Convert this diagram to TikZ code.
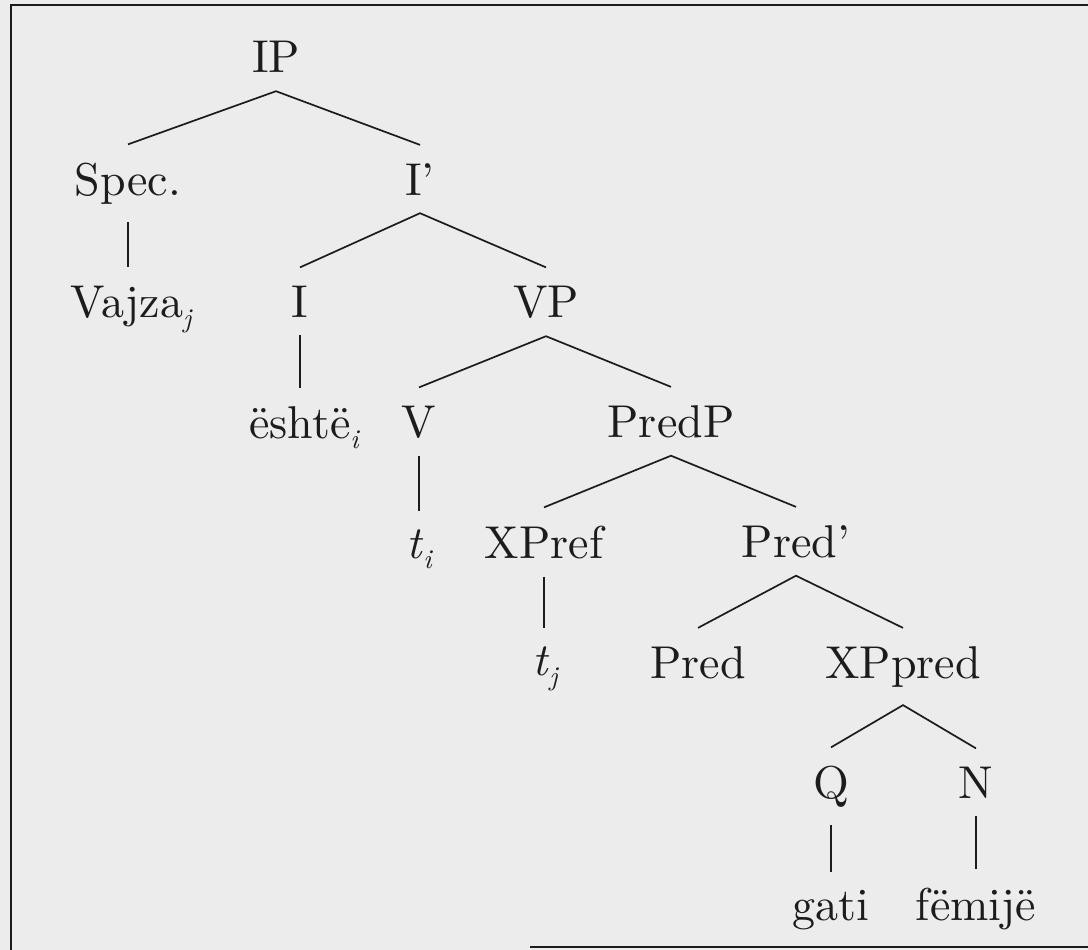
\documentclass[tikz,border=0pt]{standalone}
\usepackage{fontspec}
\setmainfont{lmroman10-regular.otf}[ItalicFont=lmroman10-italic.otf]
\definecolor{bg}{RGB}{236,236,236}
\definecolor{ink}{RGB}{28,28,28}
\newcommand\subidx[1]{\raisebox{-0.22em}{\fontsize{27}{29}\selectfont\itshape #1}}
\tikzset{
  lab/.style={anchor=base, inner xsep=2pt, inner ysep=18pt, text=ink,
              font=\fontsize{46}{50}\selectfont},
  edge/.style={draw=ink, line width=1.7pt},
  frame/.style={draw=ink, line width=2.8pt}
}
\begin{document}
\begin{tikzpicture}[x=1pt,y=-1pt]
\useasboundingbox[fill=bg] (0,0) rectangle (1088,950);
\draw[frame] (1088,5) -- (11,5) -- (11,950);
\draw[frame] (530,947) -- (1088,947);

\node[lab] (ip) at (276,73) {IP};
\node[lab] (spec) at (128,195) {Spec.};
\node[lab] (ibar) at (420,195) {I'};
\node[lab] (vajza) at (131,317) {Vajza\subidx{j}};
\node[lab] (i) at (300,317) {I};
\node[lab] (vp) at (546,317) {VP};
\node[lab] (este) at (304,438) {është\subidx{i}};
\node[lab] (v) at (419,437) {V};
\node[lab] (predp) at (671,437) {PredP};
\node[lab] (ti) at (419,558) {\textit{t}\subidx{i}};
\node[lab] (xpref) at (544,558) {XPref};
\node[lab] (predbar) at (796,557) {Pred'};
\node[lab] (tj) at (545,675) {\textit{t}\subidx{j}};
\node[lab] (pred) at (698,678) {Pred};
\node[lab] (xppred) at (903,678) {XPpred};
\node[lab] (q) at (831,798) {Q};
\node[lab] (n) at (976,798) {N};
\node[lab] (gati) at (831,920) {gati};
\node[lab] (femije) at (976,920) {fëmijë};

\draw[edge] (spec.north) -- (ip.south) -- (ibar.north);
\draw[edge] (i.north) -- (ibar.south) -- (vp.north);
\draw[edge] (v.north) -- (vp.south) -- (predp.north);
\draw[edge] (xpref.north) -- (predp.south) -- (predbar.north);
\draw[edge] (pred.north) -- (predbar.south) -- (xppred.north);
\draw[edge] (q.north) -- (xppred.south) -- (n.north);
\draw[edge] (spec.south) -- (spec.south |- vajza.north);
\draw[edge] (i.south) -- (i.south |- este.north);
\draw[edge] (v.south) -- (v.south |- ti.north);
\draw[edge] (xpref.south) -- (xpref.south |- tj.north);
\draw[edge] (q.south) -- (q.south |- gati.north);
\draw[edge] (n.south) -- (n.south |- femije.north);
\end{tikzpicture}
\end{document}
